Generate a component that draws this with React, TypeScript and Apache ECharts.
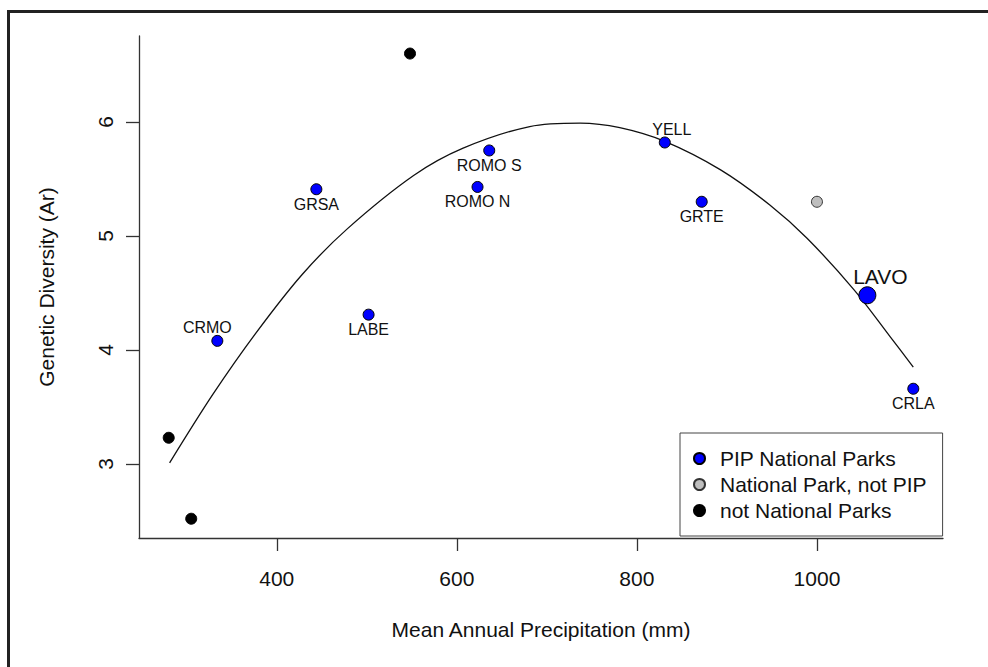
import React, { useEffect, useRef } from "react";
import * as echarts from "echarts";

// ---- data ----
const pipNames = ["CRMO", "GRSA", "LABE", "ROMO N", "ROMO S", "YELL", "GRTE", "LAVO", "CRLA"];
const pipPrecip = [334, 444, 502, 623, 636, 831, 872, 1056, 1107];
const pipDiversity = [4.08, 5.41, 4.31, 5.43, 5.75, 5.82, 5.3, 4.48, 3.66];

const npPrecip = [1000];
const npDiversity = [5.3];

const otherPrecip = [280, 305, 548];
const otherDiversity = [3.23, 2.52, 6.6];

// fitted curve
const curvePrecip = [281, 329, 377, 428, 478, 552, 607, 681, 737, 781, 831, 893, 948, 989, 1041, 1081, 1107];
const curveDiversity = [3.01, 3.61, 4.15, 4.66, 5.06, 5.53, 5.77, 5.96, 5.99, 5.95, 5.83, 5.58, 5.27, 4.98, 4.53, 4.12, 3.85];

const xTicks = [400, 600, 800, 1000];
const yTicks = [3, 4, 5, 6];

const legendNames = ["PIP National Parks", "National Park, not PIP", "not National Parks"];

// ---- styling ----
const FONT = "'Liberation Sans', Arial, Helvetica, sans-serif";
const labelOffsets: Record<string, [number, number]> = {
  CRMO: [-10, -13],
  GRSA: [0, 15],
  LABE: [0, 15],
  "ROMO N": [0, 15],
  "ROMO S": [0, 15],
  YELL: [7, -13],
  GRTE: [0, 15],
  LAVO: [13, -19],
  CRLA: [0, 15],
};

export default function App() {
  const ref = useRef<HTMLDivElement>(null);

  useEffect(() => {
    if (!ref.current) return;
    const chart = echarts.init(ref.current, undefined, { renderer: "svg" });

    const pipData = pipNames.map((n, i) => {
      const big = n === "LAVO";
      return {
        name: n,
        value: [pipPrecip[i], pipDiversity[i]],
        symbolSize: big ? 17 : 11,
        label: {
          show: true,
          position: "inside",
          offset: labelOffsets[n],
          fontSize: big ? 21 : 16,
        },
      };
    });

    chart.setOption({
      animation: false,
      backgroundColor: "#ffffff",
      textStyle: { fontFamily: FONT },
      grid: { left: 139, right: 45, top: 36, bottom: 129, containLabel: false },
      xAxis: {
        type: "value",
        min: 247,
        max: 1140,
        name: "Mean Annual Precipitation (mm)",
        nameLocation: "middle",
        nameGap: 81,
        nameTextStyle: { fontSize: 21, color: "#111", fontFamily: FONT },
        axisLine: { show: true, lineStyle: { color: "#333", width: 1.3 } },
        axisTick: { show: true, length: 13, lineStyle: { color: "#333", width: 1.3 }, customValues: xTicks },
        axisLabel: {
          fontSize: 21,
          color: "#111",
          margin: 30,
          fontFamily: FONT,
          customValues: xTicks,
          formatter: (v: number) => String(v),
        },
        splitLine: { show: false },
      },
      yAxis: {
        type: "value",
        min: 2.351,
        max: 6.754,
        name: "Genetic Diversity (Ar)",
        nameLocation: "middle",
        nameRotate: 90,
        nameGap: 82,
        nameTextStyle: { fontSize: 21, color: "#111", fontFamily: FONT },
        axisLine: { show: true, lineStyle: { color: "#333", width: 1.3 } },
        axisTick: { show: true, length: 13, lineStyle: { color: "#333", width: 1.3 }, customValues: yTicks },
        axisLabel: {
          fontSize: 21,
          color: "#111",
          margin: 23,
          rotate: 90,
          fontFamily: FONT,
          customValues: yTicks,
          formatter: (v: number) => String(v),
        },
        splitLine: { show: false },
      },
      legend: {
        data: legendNames,
        orient: "vertical",
        left: 680,
        top: 433,
        padding: [15, 16, 15, 13],
        itemGap: 5,
        itemWidth: 11,
        itemHeight: 11,
        borderColor: "#444",
        borderWidth: 1,
        backgroundColor: "#fff",
        icon: "circle",
        textStyle: { fontSize: 21, color: "#111", fontFamily: FONT, lineHeight: 21, padding: [0, 0, 0, 10] },
      },
      graphic: [
        { type: "line", shape: { x1: 8.5, y1: 10, x2: 8.5, y2: 667 }, style: { stroke: "#222", lineWidth: 3 }, z: 100 },
        { type: "line", shape: { x1: 7, y1: 11.5, x2: 988, y2: 11.5 }, style: { stroke: "#222", lineWidth: 3 }, z: 100 },
      ],
      series: [
        {
          name: "fit",
          type: "line",
          data: curvePrecip.map((x, i) => [x, curveDiversity[i]]),
          smooth: 0.33,
          showSymbol: false,
          symbol: "none",
          lineStyle: { color: "#111", width: 1.3 },
          z: 2,
          silent: true,
        },
        {
          name: legendNames[0],
          type: "scatter",
          data: pipData,
          symbol: "circle",
          itemStyle: { color: "#0000ff", borderColor: "#000", borderWidth: 1, opacity: 1 },
          label: { color: "#111", fontFamily: FONT, formatter: "{b}" },
          z: 5,
        },
        {
          name: legendNames[1],
          type: "scatter",
          data: npPrecip.map((x, i) => [x, npDiversity[i]]),
          symbol: "circle",
          symbolSize: 11,
          itemStyle: { color: "#bebebe", borderColor: "#333", borderWidth: 1, opacity: 1 },
          z: 5,
        },
        {
          name: legendNames[2],
          type: "scatter",
          data: otherPrecip.map((x, i) => [x, otherDiversity[i]]),
          symbol: "circle",
          symbolSize: 11,
          itemStyle: { color: "#000", borderColor: "#000", borderWidth: 1, opacity: 1 },
          z: 5,
        },
      ],
    });

    return () => chart.dispose();
  }, []);

  return (
    <div
      ref={ref}
      style={{ position: "fixed", left: 0, top: 0, width: 988, height: 667, background: "#fff" }}
    />
  );
}
